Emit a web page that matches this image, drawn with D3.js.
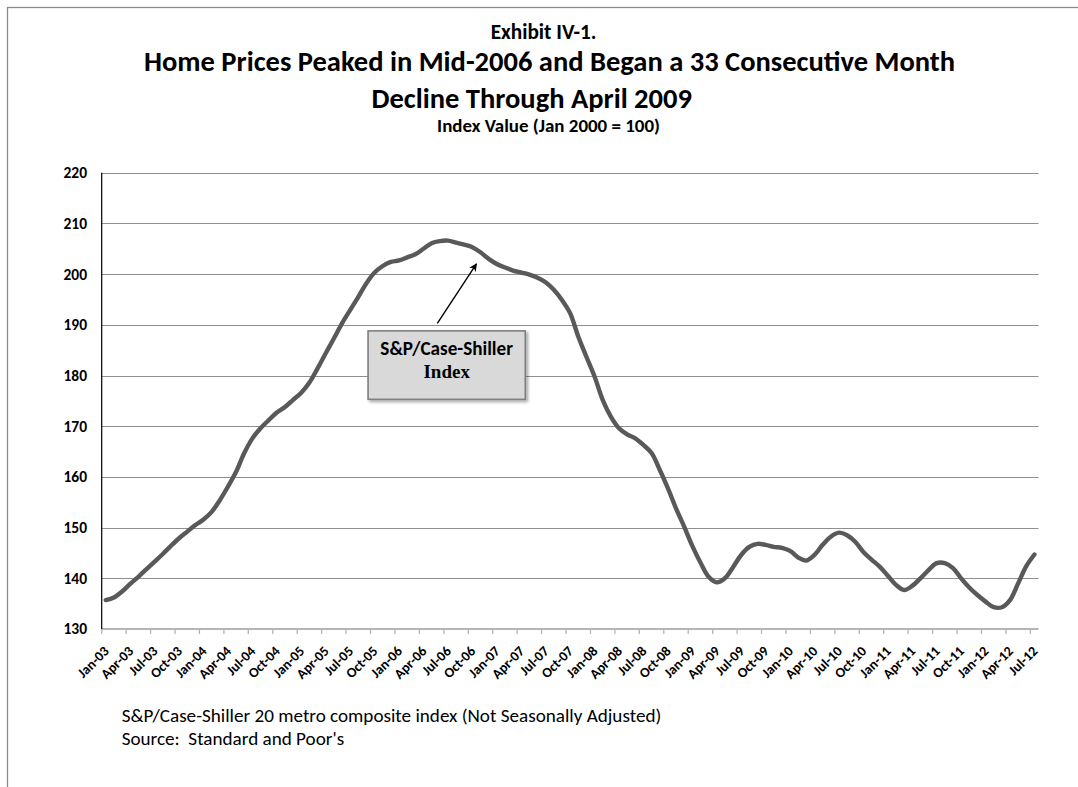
<!DOCTYPE html>
<html>
<head>
<meta charset="utf-8">
<script src="https://cdn.jsdelivr.net/npm/d3@7"></script>
<style>
  body { margin: 0; background: #fff; }
  svg text { font-family: Carlito, Calibri, Lato, "Open Sans", sans-serif; fill: #000; }
</style>
</head>
<body>
<svg id="grafico"></svg>
<script>
// meses Jan-03 .. Jul-12
const meses = d3.timeMonths(new Date(2003, 0, 1), new Date(2012, 7, 1));

// S&P/Case-Shiller 20 metro composite, NSA
const valores = [
    135.7, 136.2, 137.4, 138.9, 140.3, 141.8, 143.3, 144.8, 146.4, 147.9, 149.2, 150.5,
    151.6, 153.1, 155.4, 158.1, 161.0, 164.7, 167.6, 169.6, 171.2, 172.7, 173.8, 175.2,
    176.6, 178.6, 181.4, 184.4, 187.3, 190.3, 192.9, 195.5, 198.2, 200.3, 201.6, 202.4,
    202.7, 203.3, 203.9, 205.0, 206.1, 206.5, 206.6, 206.2, 205.8, 205.3, 204.3, 203.0,
    202.0, 201.3, 200.7, 200.3, 199.9, 199.3, 198.4, 196.9, 194.9, 192.3, 187.7, 183.7,
    179.8, 175.2, 171.9, 169.6, 168.4, 167.6, 166.3, 164.7, 161.4, 157.8, 153.8, 150.2,
    146.4, 143.1, 140.3, 139.2, 140.0, 142.2, 144.6, 146.2, 146.8, 146.6, 146.2, 146.0,
    145.4, 144.1, 143.5, 144.6, 146.6, 148.2, 149.0, 148.5, 147.2, 145.2, 143.7, 142.3,
    140.5, 138.7, 137.7, 138.5, 140.0, 141.6, 143.0, 143.0, 142.0, 140.0, 138.2, 136.7,
    135.4, 134.3, 134.3, 135.7, 139.0, 142.4, 144.7
];

const rotulosX = [
    "Jan-03", "Apr-03", "Jul-03", "Oct-03", "Jan-04", "Apr-04", "Jul-04", "Oct-04",
    "Jan-05", "Apr-05", "Jul-05", "Oct-05", "Jan-06", "Apr-06", "Jul-06", "Oct-06",
    "Jan-07", "Apr-07", "Jul-07", "Oct-07", "Jan-08", "Apr-08", "Jul-08", "Oct-08",
    "Jan-09", "Apr-09", "Jul-09", "Oct-09", "Jan-10", "Apr-10", "Jul-10", "Oct-10",
    "Jan-11", "Apr-11", "Jul-11", "Oct-11", "Jan-12", "Apr-12", "Jul-12"
];

const ticksY = [130, 140, 150, 160, 170, 180, 190, 200, 210, 220];

const titulo1 = "Exhibit IV-1.";
const titulo2 = "Home Prices Peaked in Mid-2006 and Began a 33 Consecutive Month";
const titulo3 = "Decline Through April 2009";
const subtitulo = "Index Value (Jan 2000 = 100)";
const notas = [
    "S&P/Case-Shiller 20 metro composite index (Not Seasonally Adjusted)",
    "Source:  Standard and Poor's"
];

let largura = 1078, altura = 787;
let esq = 101.7, dir = 1038.5, topo = 172.7, base = 629;

let svg = d3.select("#grafico")
    .attr("width", largura)
    .attr("height", altura);

// sombra da caixa e ponta da seta
let defs = svg.append("defs");
defs.append("filter")
    .attr("id", "sombra")
    .attr("x", "-10%").attr("y", "-10%").attr("width", "130%").attr("height", "140%")
    .append("feDropShadow")
    .attr("dx", 2).attr("dy", 2).attr("stdDeviation", 1.6)
    .attr("flood-color", "#000").attr("flood-opacity", 0.35);
defs.append("marker")
    .attr("id", "seta")
    .attr("viewBox", "0 0 10 10")
    .attr("refX", 9).attr("refY", 5)
    .attr("markerWidth", 8).attr("markerHeight", 8)
    .attr("markerUnits", "userSpaceOnUse")
    .attr("orient", "auto")
    .append("path")
    .attr("d", "M0,0 L10,5 L0,10 L3,5 z")
    .attr("fill", "#000");

// moldura
svg.append("rect")
    .attr("x", 7.5).attr("y", 7.5)
    .attr("width", 1200).attr("height", 1000)
    .attr("fill", "none")
    .attr("stroke", "#8c8c8c")
    .attr("stroke-width", 1.3);

function ajustar(texto, alvo) {
    let w = texto.node().getComputedTextLength();
    let tam = parseFloat(texto.attr("font-size"));
    texto.attr("font-size", (tam * alvo / w).toFixed(2) + "px");
    return parseFloat(texto.attr("font-size"));
}

// titulos
let t1 = svg.append("text").text(titulo1)
    .attr("x", 543.6).attr("y", 38.5)
    .attr("text-anchor", "middle").attr("font-weight", "bold").attr("font-size", "15px");
ajustar(t1, 106);

let t2 = svg.append("text").text(titulo2)
    .attr("x", 549.5).attr("y", 71)
    .attr("text-anchor", "middle").attr("font-weight", "bold").attr("font-size", "26px");
let tamTitulo = ajustar(t2, 811);

svg.append("text").text(titulo3)
    .attr("x", 531.7).attr("y", 108)
    .attr("text-anchor", "middle").attr("font-weight", "bold")
    .attr("font-size", tamTitulo + "px");

let t4 = svg.append("text").text(subtitulo)
    .attr("x", 548.5).attr("y", 132)
    .attr("text-anchor", "middle").attr("font-weight", "bold").attr("font-size", "15px");
ajustar(t4, 223);

// escalas
let fnX = d3.scaleBand()
    .domain(d3.range(meses.length))
    .range([esq, dir])
    .padding(0);

// mesma escala em forma continua (para posicoes fracionarias)
let fnXc = d3.scaleLinear()
    .domain([0, meses.length])
    .range([esq, dir]);

let fnY = d3.scaleLinear()
    .domain([130, 220])
    .range([base, topo]);

let meio = i => fnXc(i + 0.5);

// linhas de grade
svg.selectAll(".grade")
    .data(ticksY.filter(d => d > 130))
    .enter()
    .append("line")
    .classed("grade", true)
    .attr("x1", esq).attr("x2", dir)
    .attr("y1", d => Math.round(fnY(d)) + 0.5)
    .attr("y2", d => Math.round(fnY(d)) + 0.5)
    .attr("stroke", "#8f8f8f")
    .attr("stroke-width", 1);

// eixo y
svg.selectAll(".rotuloY")
    .data(ticksY)
    .enter()
    .append("text")
    .classed("rotuloY", true)
    .text(d => d)
    .attr("x", 87)
    .attr("y", d => fnY(d))
    .attr("dy", "0.35em")
    .attr("text-anchor", "end")
    .attr("font-weight", "bold")
    .attr("font-size", "15.5px");

// eixo x
svg.append("line")
    .attr("x1", esq).attr("x2", dir)
    .attr("y1", base).attr("y2", base)
    .attr("stroke", "#b5b5b5")
    .attr("stroke-width", 2);

let idxTicks = rotulosX.map((d, k) => k * 3);

svg.selectAll(".tickX")
    .data(idxTicks)
    .enter()
    .append("line")
    .classed("tickX", true)
    .attr("x1", i => fnX(i)).attr("x2", i => fnX(i))
    .attr("y1", base).attr("y2", base + 5)
    .attr("stroke", "#b5b5b5")
    .attr("stroke-width", 1.3);

svg.selectAll(".rotuloX")
    .data(rotulosX)
    .enter()
    .append("text")
    .classed("rotuloX", true)
    .text(d => d)
    .attr("transform", (d, k) => `translate(${meio(k * 3) + 4},${base + 23}) rotate(-45)`)
    .attr("text-anchor", "end")
    .attr("font-weight", "bold")
    .attr("font-size", "14px");

svg.append("line")
    .attr("x1", esq).attr("x2", esq)
    .attr("y1", topo).attr("y2", base)
    .attr("stroke", "#000")
    .attr("stroke-width", 1.2);

// serie
let linha = d3.line()
    .x((d, i) => meio(i))
    .y(d => fnY(d))
    .curve(d3.curveCatmullRom.alpha(0.5));

svg.append("path")
    .datum(valores)
    .attr("d", linha)
    .attr("fill", "none")
    .attr("stroke", "#595959")
    .attr("stroke-width", 4.4)
    .attr("stroke-linejoin", "round")
    .attr("stroke-linecap", "round");

// anotacao (em unidades do grafico)
let caixa = { i0: 32.2, i1: 51.5, v0: 188.8, v1: 175.3 };
let cx0 = meio(caixa.i0), cx1 = meio(caixa.i1);
let cy0 = fnY(caixa.v0), cy1 = fnY(caixa.v1);

svg.append("line")
    .attr("x1", meio(40.7)).attr("y1", fnY(190.3))
    .attr("x2", meio(45.5)).attr("y2", fnY(202.0))
    .attr("stroke", "#000")
    .attr("stroke-width", 1.4)
    .attr("marker-end", "url(#seta)");

svg.append("rect")
    .attr("x", cx0).attr("y", cy0)
    .attr("width", cx1 - cx0).attr("height", cy1 - cy0)
    .attr("fill", "#d9d9d9")
    .attr("stroke", "#7f7f7f")
    .attr("stroke-width", 1.6)
    .attr("filter", "url(#sombra)");

let a1 = svg.append("text").text("S&P/Case-Shiller")
    .attr("x", (cx0 + cx1) / 2).attr("y", cy0 + 24)
    .attr("text-anchor", "middle").attr("font-weight", "bold").attr("font-size", "17px");
ajustar(a1, 132.7);

svg.append("text").text("Index")
    .attr("x", (cx0 + cx1) / 2).attr("y", cy0 + 47)
    .attr("text-anchor", "middle").attr("font-weight", "bold")
    .attr("font-size", "19px")
    .style("font-family", "'Liberation Serif', 'Times New Roman', serif");

// notas de rodape
let n1 = svg.append("text").text(notas[0])
    .attr("x", 121.7).attr("y", 722)
    .attr("font-size", "15px");
let tamNota = ajustar(n1, 540);

svg.append("text").text(notas[1])
    .attr("x", 121.7).attr("y", 745)
    .attr("font-size", tamNota + "px")
    .style("white-space", "pre");
</script>
</body>
</html>
